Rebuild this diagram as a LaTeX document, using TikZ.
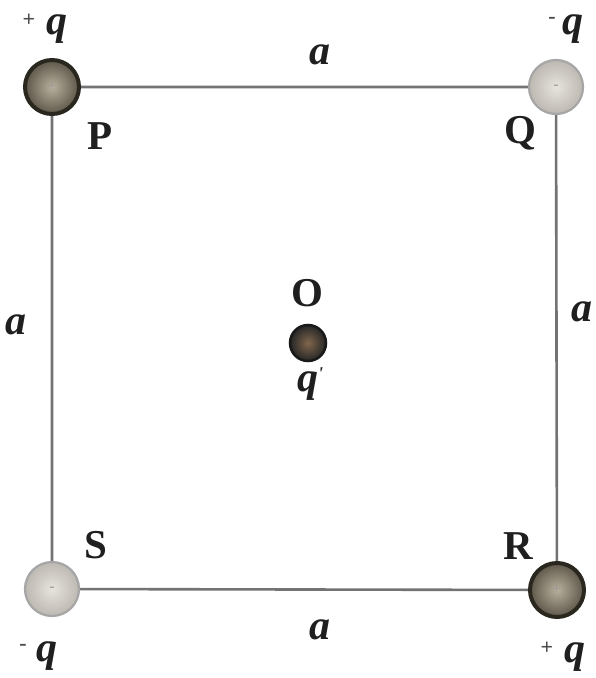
\documentclass[tikz,border=0pt]{standalone}
\usepackage{fontspec}
\setmainfont{Liberation Serif}
\usetikzlibrary{shadings}
\definecolor{posin}{HTML}{B8B09C}
\definecolor{posout}{HTML}{5E574A}
\definecolor{posring}{HTML}{2A271F}
\definecolor{negin}{HTML}{E6E4DC}
\definecolor{negout}{HTML}{BDB8B2}
\begin{document}
\begin{tikzpicture}[x=1pt,y=-1pt,
  side/.style={draw=black!55, line width=2.6pt},
  poscharge/.style={circle, minimum size=54pt, inner sep=0pt, draw=posring, line width=4pt, inner color=posin, outer color=posout},
  negcharge/.style={circle, minimum size=54pt, inner sep=0pt, draw=black!35, line width=2.2pt, inner color=negin, outer color=negout},
  centcharge/.style={circle, minimum size=36pt, inner sep=0pt, draw=black!90, line width=2.5pt, inner color=brown!50!black!80, outer color=black!85},
  lbl/.style={font=\fontsize{41}{44}\selectfont\bfseries, text=black!88},
  sym/.style={font=\fontsize{42}{46}\selectfont\bfseries\itshape, text=black!88},
  sm/.style={font=\fontsize{22}{24}\selectfont\bfseries, text=black!70},
  sign/.style={font=\fontsize{16}{18}\selectfont, text=black!40}]
\useasboundingbox (0,0) rectangle (596,678);
\fill[white] (0,0) rectangle (596,678);
% corners
\coordinate (cP) at (52,87);
\coordinate (cQ) at (556,87);
\coordinate (cR) at (557,590);
\coordinate (cS) at (52,589);
\draw[side] (cP) -- (cQ) -- (cR) -- (cS) -- cycle;
\node[poscharge] (P) at (cP) {};
\node[negcharge] (Q) at (cQ) {};
\node[poscharge] (R) at (cR) {};
\node[negcharge] (S) at (cS) {};
\node[sign] (sP) at (cP) {+};
\node[sign] (sR) at (cR) {+};
\node[sign] (sQ) at (cQ) {-};
\node[sign] (sS) at (cS) {-};
\node[centcharge] (O) at (308,343) {};
% labels
\node[sym] (qP) at (57,29) {q};
\node[sm] (pP) at (29,20) {+};
\node[sym] (qQ) at (573,29) {q};
\node[sm] (mQ) at (552,20) {-};
\node[sym] (qS) at (47,656) {q};
\node[sm] (mS) at (23,647) {-};
\node[sym] (qR) at (575,657) {q};
\node[sm] (pR) at (547,648) {+};
\node[lbl] (lP) at (100,136) {P};
\node[lbl] (lQ) at (520,133) {Q};
\node[lbl] (lS) at (96,545) {S};
\node[lbl] (lR) at (518,546) {R};
\node[lbl] (lO) at (307,293) {O};
\node[sym] (lq) at (310,384) {q\raisebox{12pt}{\fontsize{18}{18}\selectfont\textquotesingle}};
\node[sym] (at) at (320,55) {a};
\node[sym] (ab) at (320,630) {a};
\node[sym] (al) at (16,325) {a};
\node[sym] (ar) at (582,312) {a};
\end{tikzpicture}
\end{document}
